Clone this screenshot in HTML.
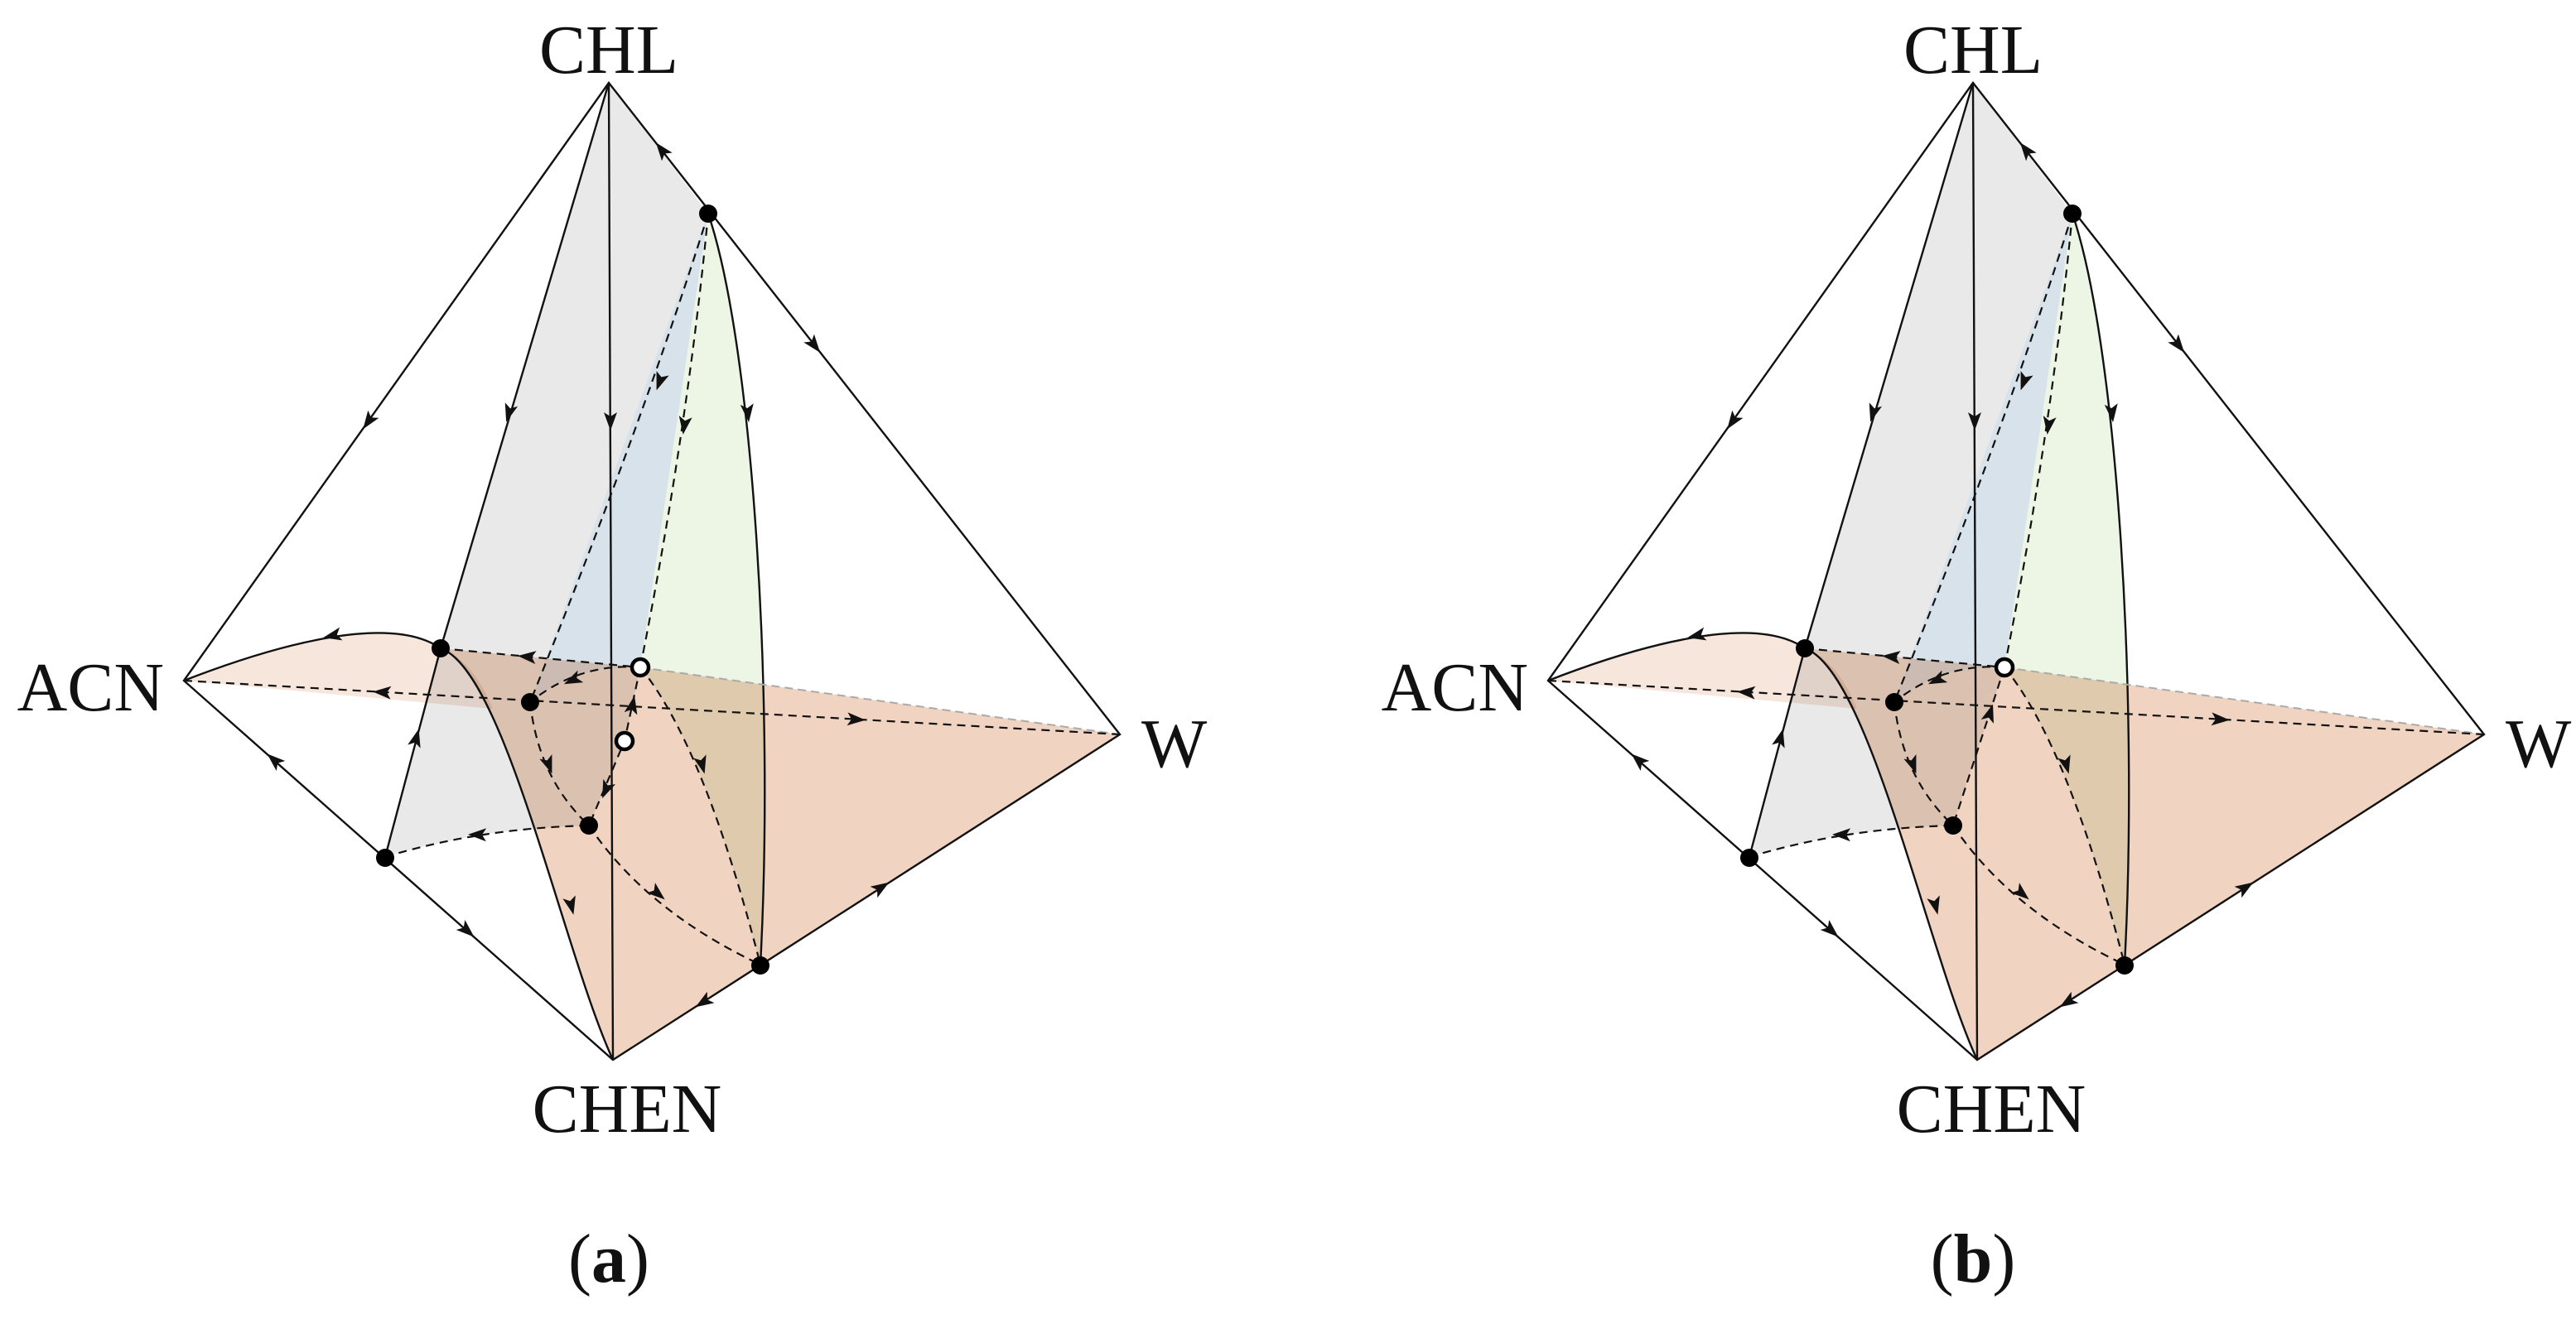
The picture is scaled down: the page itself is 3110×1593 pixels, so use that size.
<!DOCTYPE html>
<html><head><meta charset="utf-8"><style>
html,body{margin:0;padding:0;background:#fff;}
svg{display:block;}
text{font-family:"Liberation Serif",serif;font-size:84px;fill:#111;}
</style></head><body>
<svg width="3110" height="1593" viewBox="0 0 3110 1593" xmlns="http://www.w3.org/2000/svg">
<defs>
<path id="ah" d="M10,0 L-12,-8 L-7,0 L-12,8 Z" fill="#111"/>
</defs>

<!-- PANEL A -->
<g id="pa">
<path d="M735,100 L855,258 L773,806 L754,895 L711,997 Q580,1000 465,1035 L532,783 Z" fill="#e9e9e9"/>
<path d="M855,258 L640,848 Q700,800 773,806 Z" fill="#d8e2eb"/>
<path d="M855,258 C910,420 935,850 918,1165 Q850,900 773,806 Z" fill="#edf5e5"/>
<path d="M222,822 C330,780 470,740 532,783 C560,793 580,820 595,856 Z" fill="#f6e6dc" style="mix-blend-mode:multiply"/>
<path d="M532,783 C610,810 680,1150 740,1280 L1352,887 L773,806 Z" fill="#f0d3c1" style="mix-blend-mode:multiply"/>
<g fill="none" stroke="#111" stroke-width="2.4">
<path d="M735,100 L222,822 L740,1280 L1352,887 Z"/>
<path d="M735,100 L740,1280"/>
<path d="M735,100 L532,783 L465,1035"/>
<path d="M222,822 C330,780 470,740 532,783 C610,810 680,1150 740,1280"/>
<path d="M855,258 C910,420 935,850 918,1165"/>
</g>
<path d="M773,806 L1352,887" fill="none" stroke="#aaa" stroke-width="2" stroke-dasharray="10 6"/>
<g fill="none" stroke="#111" stroke-width="2.2" stroke-dasharray="10 7">
<path d="M855,258 Q780,500 640,848"/>
<path d="M855,258 Q830,520 773,806"/>
<path d="M222,822 L1352,887"/>
<path d="M532,783 L773,806"/>
<path d="M773,806 Q700,800 640,848"/>
<path d="M640,848 Q650,940 711,997"/>
<path d="M773,806 L754,895 L711,997"/>
<path d="M773,806 Q850,900 918,1165"/>
<path d="M711,997 Q780,1100 918,1165"/>
<path d="M465,1035 Q580,1000 711,997"/>
</g>
<use href="#ah" transform="translate(444,510) rotate(125)"/>
<use href="#ah" transform="translate(798,180) rotate(232)"/>
<use href="#ah" transform="translate(984,418) rotate(52)"/>
<use href="#ah" transform="translate(330,917) rotate(221.5)"/>
<use href="#ah" transform="translate(565,1125) rotate(41.5)"/>
<use href="#ah" transform="translate(848,1211) rotate(147.3)"/>
<use href="#ah" transform="translate(1065,1071) rotate(-32.7)"/>
<use href="#ah" transform="translate(737,510) rotate(90)"/>
<use href="#ah" transform="translate(614,500) rotate(106.6)"/>
<use href="#ah" transform="translate(503,890) rotate(-75)"/>
<use href="#ah" transform="translate(400,768) rotate(168)"/>
<use href="#ah" transform="translate(690,1095) rotate(76)"/>
<use href="#ah" transform="translate(903,500) rotate(84)"/>
<use href="#ah" transform="translate(796,462) rotate(110)"/>
<use href="#ah" transform="translate(826,515) rotate(98)"/>
<use href="#ah" transform="translate(460,836) rotate(183.3)"/>
<use href="#ah" transform="translate(1035,869) rotate(3.3)"/>
<use href="#ah" transform="translate(635,793) rotate(185)"/>
<use href="#ah" transform="translate(690,822) rotate(155)"/>
<use href="#ah" transform="translate(663,925) rotate(70)"/>
<use href="#ah" transform="translate(848,925) rotate(75)"/>
<use href="#ah" transform="translate(795,1080) rotate(40)"/>
<use href="#ah" transform="translate(575,1008) rotate(181)"/>
</g>
<use href="#ah" transform="translate(764,850) rotate(-78)"/>
<use href="#ah" transform="translate(731,955) rotate(113)"/>
<g fill="#000">
<circle cx="855" cy="258" r="11"/><circle cx="465" cy="1036" r="11"/><circle cx="918" cy="1166" r="11"/>
<circle cx="532" cy="783" r="11"/><circle cx="640" cy="848" r="11"/><circle cx="711" cy="997" r="11"/>
</g>
<circle cx="773" cy="806" r="10" fill="#fff" stroke="#000" stroke-width="4.5"/>
<circle cx="754" cy="895" r="10" fill="#fff" stroke="#000" stroke-width="4.5"/>
<text x="735" y="88" text-anchor="middle">CHL</text>
<text x="198" y="858" text-anchor="end">ACN</text>
<text x="1378" y="926">W</text>
<text x="757" y="1367" text-anchor="middle">CHEN</text>
<text x="735" y="1548" text-anchor="middle">(<tspan font-weight="bold">a</tspan>)</text>

<!-- PANEL B -->
<g transform="translate(1647,0)">
<path d="M735,100 L855,258 L773,806 L711,997 Q580,1000 465,1035 L532,783 Z" fill="#e9e9e9"/>
<path d="M855,258 L640,848 Q700,800 773,806 Z" fill="#d8e2eb"/>
<path d="M855,258 C910,420 935,850 918,1165 Q850,900 773,806 Z" fill="#edf5e5"/>
<path d="M222,822 C330,780 470,740 532,783 C560,793 580,820 595,856 Z" fill="#f6e6dc" style="mix-blend-mode:multiply"/>
<path d="M532,783 C610,810 680,1150 740,1280 L1352,887 L773,806 Z" fill="#f0d3c1" style="mix-blend-mode:multiply"/>
<g fill="none" stroke="#111" stroke-width="2.4">
<path d="M735,100 L222,822 L740,1280 L1352,887 Z"/>
<path d="M735,100 L740,1280"/>
<path d="M735,100 L532,783 L465,1035"/>
<path d="M222,822 C330,780 470,740 532,783 C610,810 680,1150 740,1280"/>
<path d="M855,258 C910,420 935,850 918,1165"/>
</g>
<path d="M773,806 L1352,887" fill="none" stroke="#aaa" stroke-width="2" stroke-dasharray="10 6"/>
<g fill="none" stroke="#111" stroke-width="2.2" stroke-dasharray="10 7">
<path d="M855,258 Q780,500 640,848"/>
<path d="M855,258 Q830,520 773,806"/>
<path d="M222,822 L1352,887"/>
<path d="M532,783 L773,806"/>
<path d="M773,806 Q700,800 640,848"/>
<path d="M640,848 Q650,940 711,997"/>
<path d="M773,806 L711,997"/>
<path d="M773,806 Q850,900 918,1165"/>
<path d="M711,997 Q780,1100 918,1165"/>
<path d="M465,1035 Q580,1000 711,997"/>
</g>
<use href="#ah" transform="translate(444,510) rotate(125)"/>
<use href="#ah" transform="translate(798,180) rotate(232)"/>
<use href="#ah" transform="translate(984,418) rotate(52)"/>
<use href="#ah" transform="translate(330,917) rotate(221.5)"/>
<use href="#ah" transform="translate(565,1125) rotate(41.5)"/>
<use href="#ah" transform="translate(848,1211) rotate(147.3)"/>
<use href="#ah" transform="translate(1065,1071) rotate(-32.7)"/>
<use href="#ah" transform="translate(737,510) rotate(90)"/>
<use href="#ah" transform="translate(614,500) rotate(106.6)"/>
<use href="#ah" transform="translate(503,890) rotate(-75)"/>
<use href="#ah" transform="translate(400,768) rotate(168)"/>
<use href="#ah" transform="translate(690,1095) rotate(76)"/>
<use href="#ah" transform="translate(903,500) rotate(84)"/>
<use href="#ah" transform="translate(796,462) rotate(110)"/>
<use href="#ah" transform="translate(826,515) rotate(98)"/>
<use href="#ah" transform="translate(460,836) rotate(183.3)"/>
<use href="#ah" transform="translate(1035,869) rotate(3.3)"/>
<use href="#ah" transform="translate(635,793) rotate(185)"/>
<use href="#ah" transform="translate(690,822) rotate(155)"/>
<use href="#ah" transform="translate(663,925) rotate(70)"/>
<use href="#ah" transform="translate(848,925) rotate(75)"/>
<use href="#ah" transform="translate(795,1080) rotate(40)"/>
<use href="#ah" transform="translate(575,1008) rotate(181)"/>
<use href="#ah" transform="translate(756,860) rotate(-72.4)"/>
<g fill="#000">
<circle cx="855" cy="258" r="11"/><circle cx="465" cy="1036" r="11"/><circle cx="918" cy="1166" r="11"/>
<circle cx="532" cy="783" r="11"/><circle cx="640" cy="848" r="11"/><circle cx="711" cy="997" r="11"/>
</g>
<circle cx="773" cy="806" r="10" fill="#fff" stroke="#000" stroke-width="4.5"/>
<text x="735" y="88" text-anchor="middle">CHL</text>
<text x="198" y="858" text-anchor="end">ACN</text>
<text x="1378" y="926">W</text>
<text x="757" y="1367" text-anchor="middle">CHEN</text>
<text x="735" y="1548" text-anchor="middle">(<tspan font-weight="bold">b</tspan>)</text>
</g>
</svg>
</body></html>
